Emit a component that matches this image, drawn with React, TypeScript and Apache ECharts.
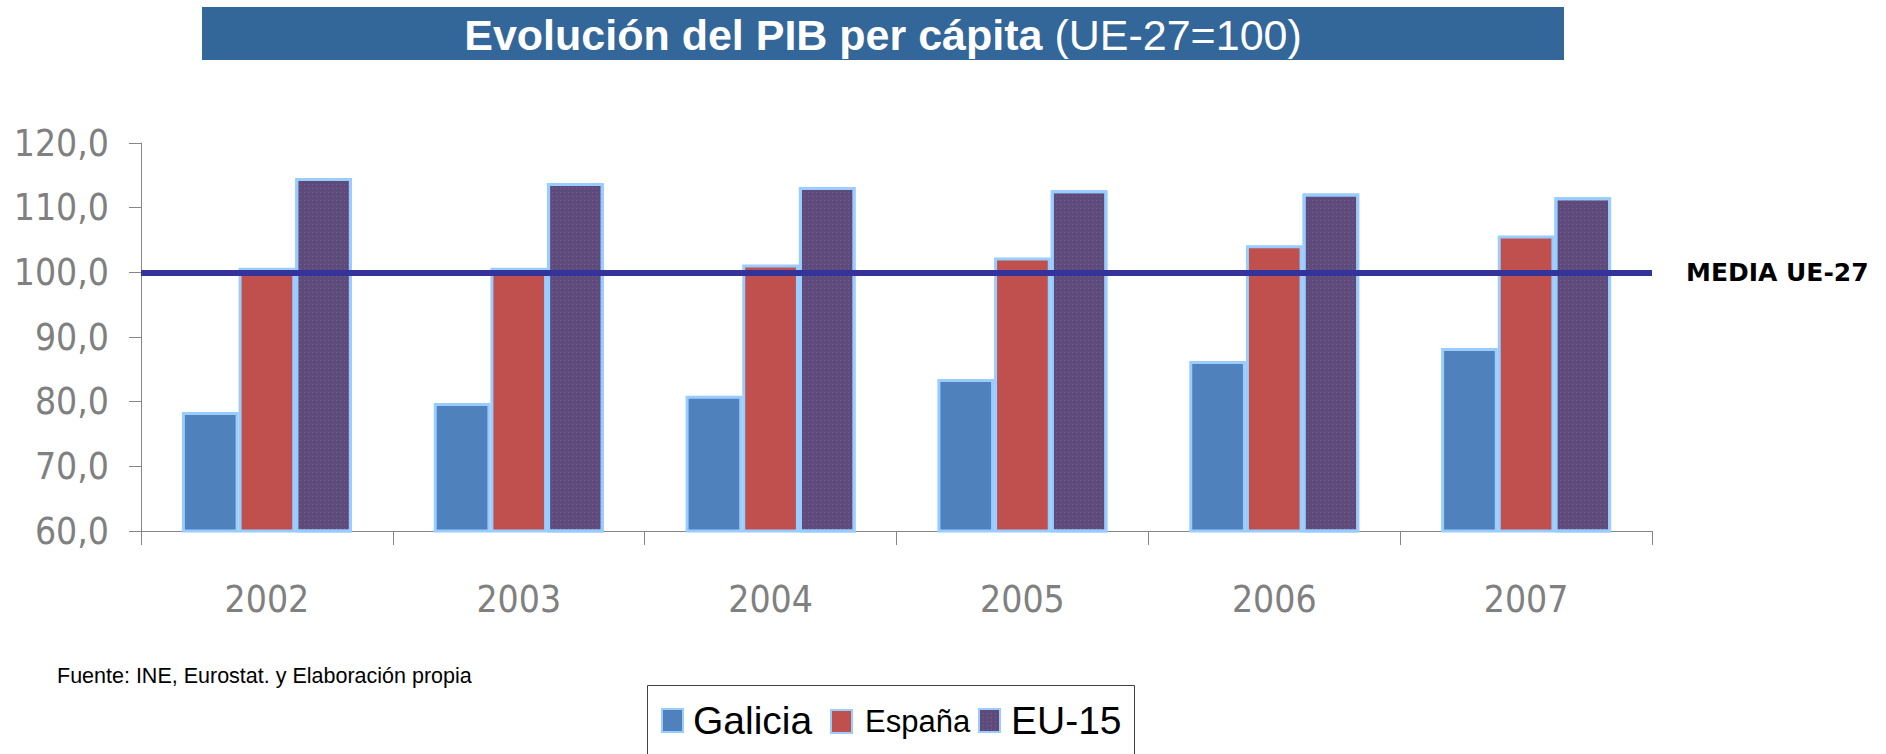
import React, { useEffect, useRef } from 'react';
import * as echarts from 'echarts';

const years = ['2002', '2003', '2004', '2005', '2006', '2007'];
const galicia = [78.4, 79.8, 80.9, 83.5, 86.3, 88.3];
const espana = [100.7, 100.7, 101.2, 102.3, 104.2, 105.7];
const eu15 = [114.6, 113.8, 113.2, 112.7, 112.2, 111.6];
const seriesNames = ['Galicia', 'España', 'EU-15'];
const mediaUE27 = 100;
const yMin = 60;
const yMax = 120;
const yStep = 10;
const titleBold = 'Evolución del PIB per cápita';
const titleRest = '(UE-27=100)';
const sourceText = 'Fuente: INE, Eurostat. y Elaboración propia';
const mediaLabel = 'MEDIA UE-27';

export default function App() {
  const ref = useRef<HTMLDivElement>(null);
  useEffect(() => {
    const chart = echarts.init(ref.current!, null, { renderer: 'svg' });
    const axisFont = "'Liberation Sans Narrow', 'Arial Narrow', 'DejaVu Sans Condensed', sans-serif";
    const sans = "'Liberation Sans', Arial, sans-serif";
    const border = '#99ccff';
    const gray = '#868686';
    const bar = (name: string, data: number[], color: string, extra: any = {}) => ({
      type: 'bar',
      name,
      data,
      barGap: '0%',
      barCategoryGap: '32.5%',
      itemStyle: { color, borderColor: border, borderWidth: 3, ...(extra.itemStyle || {}) },
      ...(extra.markLine ? { markLine: extra.markLine } : {}),
    });
    const legendBase = {
      itemWidth: 21,
      itemHeight: 23,
      icon: 'rect',
      selectedMode: false,
      padding: 0,
    };
    chart.setOption({
      animation: false,
      grid: { left: 141, right: 234, top: 143, bottom: 223, containLabel: false },
      xAxis: {
        type: 'category',
        data: years,
        axisLine: { lineStyle: { color: gray, width: 1 } },
        axisTick: { show: true, length: 14, lineStyle: { color: gray } },
        axisLabel: {
          fontFamily: axisFont,
          fontSize: 37,
          color: '#808080',
          margin: 68,
          verticalAlign: 'middle',
        },
      },
      yAxis: {
        type: 'value',
        min: yMin,
        max: yMax,
        interval: yStep,
        splitLine: { show: false },
        axisLine: { show: true, lineStyle: { color: gray, width: 1 } },
        axisTick: { show: true, length: 12, lineStyle: { color: gray } },
        axisLabel: {
          fontFamily: axisFont,
          fontSize: 37,
          color: '#808080',
          margin: 32,
          padding: [0, 0, 10, 0],
          formatter: (v: number) => v.toFixed(1).replace('.', ','),
        },
      },
      legend: [
        {
          ...legendBase,
          data: [{ name: seriesNames[0] }],
          left: 661,
          top: 701,
          textStyle: { fontSize: 39, fontFamily: sans, color: '#000', padding: [0, 0, 0, 5] },
        },
        {
          ...legendBase,
          data: [{ name: seriesNames[1] }],
          left: 830,
          top: 706,
          textStyle: { fontSize: 31, fontFamily: sans, color: '#000', padding: [0, 0, 0, 8] },
        },
        {
          ...legendBase,
          data: [{ name: seriesNames[2] }],
          left: 978,
          top: 701,
          textStyle: { fontSize: 39, fontFamily: sans, color: '#000', padding: [0, 0, 0, 6] },
        },
      ],
      graphic: [
        { type: 'rect', shape: { x: 202, y: 7, width: 1362, height: 53 }, style: { fill: '#336699' } },
        {
          type: 'text',
          x: 883,
          y: 35,
          style: {
            text: `{b|${titleBold}}{r| ${titleRest}}`,
            align: 'center',
            verticalAlign: 'middle',
            rich: {
              b: { fontSize: 43, fontWeight: 'bold', fontFamily: sans, fill: '#ffffff' },
              r: { fontSize: 43, fontWeight: 'normal', fontFamily: sans, fill: '#ffffff' },
            },
          },
        },
        {
          type: 'text',
          x: 57,
          y: 676,
          style: { text: sourceText, fontSize: 21.5, fontFamily: sans, fill: '#000', verticalAlign: 'middle' },
        },
        {
          type: 'rect',
          shape: { x: 647.5, y: 685.5, width: 487, height: 100 },
          style: { fill: 'none', stroke: '#404040', lineWidth: 1 },
        },
      ],
      series: [
        bar(seriesNames[0], galicia, '#4f81bd'),
        bar(seriesNames[1], espana, '#c0504d'),
        bar(seriesNames[2], eu15, '#5f4b7b', {
          itemStyle: {
            decal: {
              symbol: 'rect',
              symbolSize: 1,
              color: 'rgba(190,170,220,0.25)',
              dashArrayX: [1, 3],
              dashArrayY: [1, 3],
            },
          },
          markLine: {
            silent: true,
            symbol: ['none', 'none'],
            data: [{ yAxis: mediaUE27 }],
            lineStyle: { color: '#333399', width: 6, type: 'solid' },
            label: {
              show: true,
              position: 'end',
              formatter: mediaLabel,
              distance: 34,
              color: '#000',
              fontFamily: "'DejaVu Sans', Verdana, sans-serif",
              fontWeight: 'bold',
              fontSize: 25,
            },
          },
        }),
      ],
    });
    return () => chart.dispose();
  }, []);
  return <div ref={ref} style={{ position: 'absolute', left: 0, top: 0, width: 1886, height: 754 }} />;
}
